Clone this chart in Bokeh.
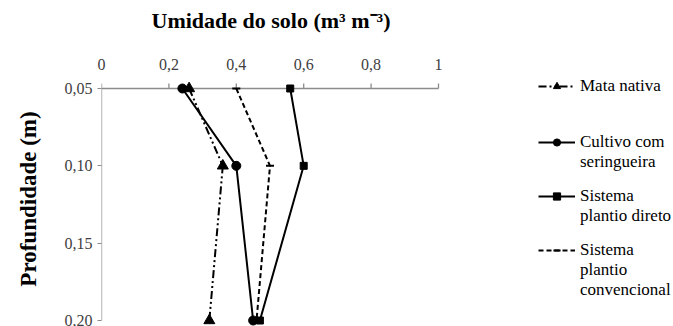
from bokeh.plotting import figure
from bokeh.models import Range1d, FixedTicker, Legend, LegendItem
from bokeh.embed import file_html
from bokeh.resources import INLINE

depth = [0.05, 0.10, 0.20]
mata_nativa = [0.26, 0.36, 0.32]
cultivo_seringueira = [0.24, 0.40, 0.45]
plantio_direto = [0.56, 0.60, 0.47]
plantio_convencional = [0.40, 0.50, 0.46]

x_ticks = [0, 0.2, 0.4, 0.6, 0.8, 1.0]
x_tick_labels = ["0", "0,2", "0,4", "0,6", "0,8", "1"]
y_ticks = [0.05, 0.10, 0.15, 0.20]
y_tick_labels = ["0,05", "0,10", "0,15", "0,20"]

SERIF = "Liberation Serif"
AX = "#8c8c8c"
W, H = 673, 326
LEFT = 101
pad_top, pad_bottom = 17, 6
TOP = 88 - pad_top       # depth 0.05 sits at 88 px
plot_px = 232            # pixels between depth 0.05 and 0.20
axis_px = 337            # pixels between moisture 0 and 1
upp = (y_ticks[-1] - y_ticks[0]) / plot_px
y_start = y_ticks[-1] + pad_bottom * upp
y_end = y_ticks[0] - pad_top * upp
x_end = (W - LEFT) / axis_px   # frame extends under the legend area

p = figure(width=W, height=H, output_backend="svg", toolbar_location=None,
           x_range=Range1d(x_ticks[0], x_end), y_range=Range1d(y_start, y_end),
           x_axis_location="above",
           min_border_left=LEFT, min_border_right=0, min_border_top=TOP, min_border_bottom=0)
p.outline_line_color = None
p.grid.visible = False
p.background_fill_color = "white"

p.title.text = "Umidade do solo (m\u00b3 m\u207b\u00b3)"
p.title.text_font = SERIF
p.title.text_font_style = "bold"
p.title.text_font_size = "22px"
p.title.text_color = "black"
p.title.align = "left"
p.title.offset = 50

xa = p.xaxis[0]
xa.ticker = FixedTicker(ticks=x_ticks)
xa.major_label_overrides = {t: l for t, l in zip(x_ticks, x_tick_labels)}
xa.axis_line_color = None
xa.major_tick_line_color = None
xa.major_tick_out = 0
xa.major_tick_in = 0
xa.minor_tick_out = 0
xa.minor_tick_line_color = None
xa.major_label_text_font = SERIF
xa.major_label_text_font_size = "16px"
xa.major_label_text_color = "#404040"
xa.major_label_standoff = 2
# invisible spacer label between tick labels and title
xa.axis_label = "\u00a0"
xa.axis_label_text_font_size = "2px"
xa.axis_label_standoff = 13

ya = p.yaxis[0]
ya.ticker = FixedTicker(ticks=y_ticks)
ya.major_label_overrides = {t: l for t, l in zip(y_ticks, y_tick_labels)}
ya.axis_line_color = None
ya.major_tick_out = 4
ya.major_tick_in = 0
ya.major_tick_line_color = AX
ya.minor_tick_line_color = None
ya.major_label_text_font = SERIF
ya.major_label_text_font_size = "16px"
ya.major_label_text_color = "#404040"
ya.major_label_standoff = 5
ya.axis_label = "Profundidade (m)"
ya.axis_label_text_font = SERIF
ya.axis_label_text_font_style = "bold"
ya.axis_label_text_font_size = "23px"
ya.axis_label_text_color = "black"
ya.axis_label_standoff = 21

# axis lines and top ticks (ticks rise 5 px above the 0.05 line)
p.line([x_ticks[0], x_ticks[-1]], [y_ticks[0], y_ticks[0]], line_color=AX, line_width=1.3)
p.line([x_ticks[0], x_ticks[0]], [y_ticks[0], y_ticks[-1]], line_color=AX, line_width=1.3)
p.segment(x0=x_ticks, y0=[y_ticks[0]] * len(x_ticks), x1=x_ticks,
          y1=[y_ticks[0] - 5 * upp] * len(x_ticks), line_color=AX, line_width=1.3)

r1l = p.line(mata_nativa, depth, line_color="black", line_width=2, line_dash="8 3 2 3 2 3")
r1m = p.scatter(mata_nativa, depth, marker="triangle", size=11, color="black")
r2l = p.line(cultivo_seringueira, depth, line_color="black", line_width=2)
r2m = p.scatter(cultivo_seringueira, depth, marker="circle", size=9, color="black")
r3l = p.line(plantio_direto, depth, line_color="black", line_width=2)
r3m = p.scatter(plantio_direto, depth, marker="square", size=7, color="black")
r4l = p.line(plantio_convencional, depth, line_color="black", line_width=2, line_dash="5 3")
r4m = p.scatter(plantio_convencional, depth, marker="dash", size=8, color="black", line_width=2)

entries = [
    (["Mata nativa"], [r1l, r1m], 230),
    (["Cultivo com", "seringueira"], [r2l, r2m], 154),
    (["Sistema", "plantio direto"], [r3l, r3m], 100),
    (["Sistema", "plantio", "convencional"], [r4l, r4m], 26),
]
for lines, rs, ybot in entries:
    items = [LegendItem(label=lines[0], renderers=rs)]
    items += [LegendItem(label=t, renderers=[]) for t in lines[1:]]
    lg = Legend(items=items, location=(437, ybot), spacing=0,
                glyph_width=37, glyph_height=18, label_standoff=5, padding=0, margin=0,
                border_line_color=None, background_fill_alpha=0,
                label_text_font=SERIF, label_text_font_size="17px", label_text_color="black",
                label_text_line_height=1.05, label_height=18)
    p.add_layout(lg)

open("out.html", "w").write(file_html(p, INLINE))
